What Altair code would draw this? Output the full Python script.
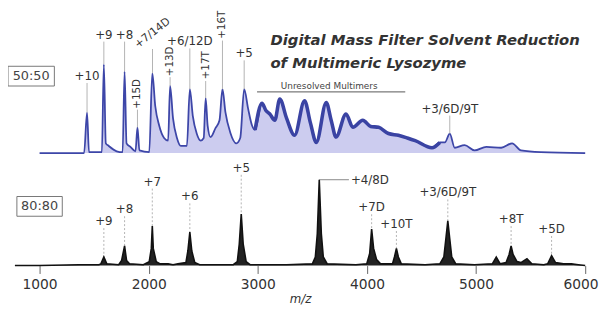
import altair as alt
import pandas as pd

# ---------------- data ----------------
# 50:50 spectrum (blue), m/z and relative intensity
top_mz = [1000, 1408, 1435, 1453, 1571, 1589, 1607, 1634, 1707, 1761, 1779, 1797, 1833, 1879, 1897,
          1915, 2005, 2033, 2060, 2096, 2141, 2178, 2196, 2223, 2259, 2295, 2350, 2377, 2404, 2440,
          2476, 2504, 2522, 2540, 2567, 2612, 2649, 2676, 2703, 2748, 2803, 2839, 2875, 2911, 2947,
          2975, 3038, 3074, 3110, 3156, 3201, 3264, 3337, 3428, 3482, 3536, 3627, 3672, 3717, 3808,
          3871, 3962, 4034, 4107, 4197, 4288, 4370, 4442, 4596, 4668, 4714, 4759, 4804, 4895, 4986,
          5094, 5230, 5330, 5411, 5592, 6000]
top_int = [0, 0, 45.6, 1, 1, 100, 11, 8, 2, 1, 92, 11, 7, 2, 29,
           3, 1, 90, 53, 31, 17, 14, 75.6, 39, 17, 8, 8, 72, 42, 22,
           14, 17, 62, 31, 18, 28, 37, 72, 46, 23, 11, 17, 72, 50, 31,
           26, 56, 48, 44, 37, 61, 39, 20, 59, 34, 12, 57, 37, 18, 44,
           29, 37, 30, 29, 22, 20, 17, 14, 6, 12, 12, 22, 6, 9, 3,
           7, 6, 11, 3, 1, 0]

# 80:80 spectrum (black)
bot_mz = [774, 1000, 1362, 1543, 1562, 1589, 1616, 1725, 1752, 1779, 1797, 1824, 1951, 2005, 2024,
          2033, 2042, 2069, 2105, 2178, 2223, 2268, 2341, 2359, 2377, 2395, 2422, 2467, 2630, 2775,
          2812, 2830, 2848, 2866, 2893, 2929, 3264, 3500, 3527, 3545, 3563, 3582, 3600, 3636, 3899,
          3998, 4025, 4043, 4061, 4088, 4125, 4234, 4252, 4270, 4288, 4315, 4533, 4668, 4705, 4723,
          4741, 4759, 4777, 4814, 4986, 5149, 5185, 5221, 5275, 5303, 5321, 5339, 5375, 5411, 5466,
          5511, 5620, 5656, 5692, 5728, 5801, 5873, 5937, 6000]
bot_int = [0, 0, 1, 1, 2, 10, 2, 1, 6, 23, 6, 2, 1, 4.6, 20,
           46, 20, 4.6, 2, 2, 1, 2, 3.5, 17, 39, 17, 3.5, 1, 1, 1,
           4.6, 25, 60, 25, 4.6, 1, 1, 2, 10, 37, 100, 37, 10, 2, 1,
           2, 14, 42.5, 20, 7, 2, 2, 10, 20, 10, 2, 1, 2, 10, 31,
           52, 31, 10, 2, 1, 2, 10, 2, 3.5, 13, 23, 13, 4.6, 3.5, 8,
           2, 1, 2, 11.5, 3.5, 2, 2, 1, 0]

# peak labels, 50:50 (horizontal / vertical / diagonal)
top_h_text = ["+10", "+9", "+8", "+6/12D", "+5", "+3/6D/9T"]
top_h_mz = [1435, 1589, 1779, 2377, 2875, 4759]
top_h_peak = [45.6, 100, 92, 72, 72, 22]
top_h_level = [86.7, 133.3, 133.3, 125.6, 112.2, 50]

top_v_text = ["+15D", "+13D", "+17T", "+16T"]
top_v_mz = [1897, 2196, 2522, 2676]
top_v_peak = [29, 75.6, 62, 72]
top_v_level = [66.7, 103.3, 98.9, 144.5]

top_d_text = ["+7/14D"]
top_d_mz = [2035]
top_d_peak = [90]
top_d_level = [135]

# peak labels, 80:80
bot_text = ["+9", "+8", "+7", "+6", "+5", "+7D", "+10T", "+3/6D/9T", "+8T", "+5D"]
bot_lmz = [1589, 1779, 2033, 2377, 2848, 4043, 4270, 4741, 5321, 5692]
bot_peak = [10, 23, 46, 39, 60, 42.5, 20, 52, 23, 11.5]
bot_level = [51.7, 65.5, 97.7, 80.5, 113.8, 67.8, 48.3, 85.1, 54.0, 42.5]

side_text = ["+4/8D"]
side_peak_mz = [3563]
side_label_mz = [3853]
side_level = [100]

unres_text = ["Unresolved Multimers"]
unres_from = [2993]
unres_to = [4351]
unres_mid = [3654]
unres_text_level = [75.6]
unres_line_level = [68.9]

title_lines = ["Digital Mass Filter Solvent Reduction", "of Multimeric Lysozyme"]
panel_names = ["50:50", "80:80"]
tick_values = [1000, 2000, 3000, 4000, 5000, 6000]

# ---------------- chart ----------------
X_DOM = [774, 6000]
TOP_DOM = [-126.7, 161.1]
BOT_DOM = [0, 297.7]
FONT = "DejaVu Sans"

X_AXIS = alt.Axis(values=tick_values, format="d", domain=False, grid=False,
                  tickSize=8, tickColor="#666", tickWidth=1,
                  labelFlush=True, labelFlushOffset=13,
                  labelFont=FONT, labelFontSize=14, labelColor="#333", labelPadding=4,
                  title="m/z", titleFont=FONT, titleFontSize=12, titleFontStyle="italic",
                  titleFontWeight="normal", titleColor="#333", titlePadding=2)


def xq(field):
    return alt.X(f"{field}:Q", scale=alt.Scale(domain=X_DOM, nice=False, zero=False),
                 axis=X_AXIS, title="m/z")


def yq(field, dom):
    return alt.Y(f"{field}:Q", scale=alt.Scale(domain=dom, nice=False, zero=False), axis=None)


top_df = pd.DataFrame({"mz": top_mz, "inten": top_int})
bot_df = pd.DataFrame({"mz": bot_mz, "inten": bot_int})

top_area = alt.Chart(top_df).mark_area(color="#c9c9ee", opacity=0.95, interpolate="monotone").encode(
    x=xq("mz"), y=yq("inten", TOP_DOM), y2=alt.datum(0))
top_line = alt.Chart(top_df).mark_line(color="#3d46a8", strokeWidth=1.8,
                                       interpolate="monotone").encode(
    x=xq("mz"), y=yq("inten", TOP_DOM))
top_thick = alt.Chart(top_df).transform_filter(
    (alt.datum.mz >= 2950) & (alt.datum.mz <= 4700)).mark_line(
    color="#3a43a3", strokeWidth=3.6, interpolate="monotone").encode(
    x=xq("mz"), y=yq("inten", TOP_DOM))

bot_area = alt.Chart(bot_df).mark_area(color="#222").encode(
    x=xq("mz"), y=yq("inten", BOT_DOM), y2=alt.datum(0))
bot_line = alt.Chart(bot_df).mark_line(color="#111", strokeWidth=1.6).encode(
    x=xq("mz"), y=yq("inten", BOT_DOM))

th = pd.DataFrame({"t": top_h_text, "mz": top_h_mz, "pk": top_h_peak, "lv": top_h_level})
tv = pd.DataFrame({"t": top_v_text, "mz": top_v_mz, "pk": top_v_peak, "lv": top_v_level})
td = pd.DataFrame({"t": top_d_text, "mz": top_d_mz, "pk": top_d_peak, "lv": top_d_level})
bl = pd.DataFrame({"t": bot_text, "mz": bot_lmz, "pk": bot_peak, "lv": bot_level})
sd = pd.DataFrame({"t": side_text, "pmz": side_peak_mz, "lmz": side_label_mz, "lv": side_level})
ur = pd.DataFrame({"t": unres_text, "a": unres_from, "b": unres_to, "m": unres_mid,
                   "tl": unres_text_level, "ll": unres_line_level})

LEAD = "#b3b3b3"


def leaders(df, dom, off, dash=None):
    kw = dict(color=LEAD, strokeWidth=1, yOffset=off)
    if dash:
        kw["strokeDash"] = dash
    return alt.Chart(df).mark_rule(**kw).encode(
        x=xq("mz"), y=yq("lv", dom), y2=alt.Y2("pk:Q"))


def labels(df, dom, size, angle=0):
    kw = dict(font=FONT, fontSize=size, color="#333", align="center", baseline="middle")
    if angle:
        kw["angle"] = angle
    return alt.Chart(df).mark_text(**kw).encode(x=xq("mz"), y=yq("lv", dom), text="t:N")


layers = [
    top_area, top_line, top_thick,
    leaders(th, TOP_DOM, 7), labels(th, TOP_DOM, 12),
    leaders(tv, TOP_DOM, 16), labels(tv, TOP_DOM, 10.5, 270),
    leaders(td, TOP_DOM, 16), labels(td, TOP_DOM, 11, 322),
    leaders(bl, BOT_DOM, 7, [2, 2]), labels(bl, BOT_DOM, 12),
    alt.Chart(sd).mark_rule(color="#888", strokeWidth=1, x2Offset=-2).encode(
        x=xq("pmz"), x2=alt.X2("lmz:Q"), y=yq("lv", BOT_DOM)),
    alt.Chart(sd).mark_text(font=FONT, fontSize=12, color="#333", align="left",
                            baseline="middle").encode(
        x=xq("lmz"), y=yq("lv", BOT_DOM), text="t:N"),
    alt.Chart(ur).mark_rule(color="#555", strokeWidth=1).encode(
        x=xq("a"), x2=alt.X2("b:Q"), y=yq("ll", TOP_DOM)),
    alt.Chart(ur).mark_text(font=FONT, fontSize=9, color="#444", align="center",
                            baseline="middle").encode(
        x=xq("m"), y=yq("tl", TOP_DOM), text="t:N"),
    bot_area, bot_line,
]

# title lines and panel boxes
for i, yy in enumerate([30, 54]):
    layers.append(alt.Chart(pd.DataFrame({"t": [title_lines[i]]})).mark_text(
        font=FONT, fontSize=15, fontWeight="bold", fontStyle="italic", color="#333",
        align="left", baseline="middle").encode(
        x=alt.value(259), y=alt.value(yy), text="t:N"))

for name, (bx, by, bx2, by2) in zip(panel_names, [(-7, 57, 40, 77), (2, 189, 48, 209)]):
    layers.append(alt.Chart(pd.DataFrame({"t": [name]})).mark_rect(
        filled=False, stroke="#777", strokeWidth=1).encode(
        x=alt.value(bx), x2=alt.value(bx2), y=alt.value(by), y2=alt.value(by2)))
    layers.append(alt.Chart(pd.DataFrame({"t": [name]})).mark_text(
        font=FONT, fontSize=13, color="#444", align="center", baseline="middle").encode(
        x=alt.value((bx + bx2) / 2), y=alt.value((by + by2) / 2), text="t:N"))

chart = alt.layer(*layers).resolve_scale(y="independent").properties(
    width=578, height=259,
    autosize=alt.AutoSizeParams(type="none"),
    padding={"left": 7, "top": 0, "right": 15, "bottom": 45},
).configure_view(stroke=None)

chart.save("out.html", embed_options={"renderer": "svg", "actions": False})
